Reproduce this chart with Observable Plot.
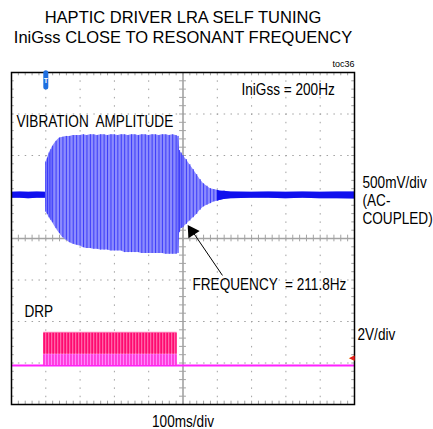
<!DOCTYPE html>
<html><head><meta charset="utf-8">
<script src="https://cdn.jsdelivr.net/npm/d3@7"></script>
<script src="https://cdn.jsdelivr.net/npm/@observablehq/plot@0.6"></script>
<style>body{margin:0;background:#fff} svg{display:block}</style>
</head><body><div id="chart"></div>
<script>
// ---- text ----
const titleLines = ["HAPTIC DRIVER LRA SELF TUNING", "IniGss CLOSE TO RESONANT FREQUENCY"];
const tocLabel = "toc36";
const iniLabel = "IniGss = 200Hz";
const ch1Label = "VIBRATION  AMPLITUDE";
const ch1Scale = ["500mV/div", "(AC-", "COUPLED)"];
const freqLabel = "FREQUENCY  = 211.8Hz";
const ch2Label = "DRP";
const ch2Scale = "2V/div";
const timeLabel = "100ms/div";

// ---- screen (divisions) ----
const timeDivs = [0, 100, 200, 300, 400, 500, 600, 700, 800, 900, 1000]; // ms
const voltDivs = [-4, -3, -2, -1, 0, 1, 2, 3, 4];

// ---- channel 1: vibration amplitude envelope (V, relative to ground) ----
const blueT  = [0, 25, 50, 75, 99, 100, 105, 110, 115, 120, 130, 140, 150, 160, 170, 180, 190, 200, 210, 220, 230, 240, 250, 260, 270, 280, 290, 300, 310, 320, 330, 340, 350, 360, 370, 380, 390, 400, 410, 420, 430, 440, 450, 460, 470, 480, 486, 490, 495, 500, 510, 520, 530, 540, 550, 560, 570, 580, 590, 600, 610, 620, 640, 700, 750, 800, 850, 900, 950, 1000];
const blueHi = [0.036, 0.04, 0.036, 0.04, 0.036, 0.40, 0.45, 0.51, 0.55, 0.59, 0.65, 0.69, 0.70, 0.71, 0.71, 0.72, 0.72, 0.72, 0.73, 0.72, 0.73, 0.73, 0.72, 0.73, 0.73, 0.72, 0.73, 0.73, 0.72, 0.73, 0.73, 0.72, 0.73, 0.73, 0.72, 0.73, 0.73, 0.72, 0.73, 0.73, 0.72, 0.73, 0.73, 0.72, 0.73, 0.72, 0.71, 0.54, 0.51, 0.48, 0.43, 0.37, 0.31, 0.25, 0.19, 0.14, 0.11, 0.08, 0.07, 0.06, 0.05, 0.05, 0.04, 0.036, 0.04, 0.036, 0.04, 0.036, 0.04, 0.04];
const blueLo = [-0.036, -0.035, -0.04, -0.036, -0.036, -0.20, -0.23, -0.27, -0.30, -0.33, -0.40, -0.46, -0.51, -0.54, -0.57, -0.59, -0.60, -0.61, -0.63, -0.64, -0.64, -0.65, -0.65, -0.66, -0.66, -0.66, -0.67, -0.67, -0.67, -0.67, -0.69, -0.69, -0.69, -0.69, -0.69, -0.70, -0.70, -0.70, -0.70, -0.70, -0.70, -0.70, -0.71, -0.71, -0.71, -0.71, -0.70, -0.45, -0.40, -0.39, -0.35, -0.31, -0.27, -0.23, -0.18, -0.14, -0.12, -0.10, -0.08, -0.07, -0.06, -0.05, -0.04, -0.036, -0.036, -0.04, -0.036, -0.04, -0.04, -0.045];
const ch1VoltsPerDiv = 0.5;
const ch1GroundDiv = 1.04;
const burstWindow = [100, 630];      // ms, where the drawn cycles are dense
const triggerT = 100;                // ms

// ---- channel 2: DRP drive ----
const drpStart = 94, drpEnd = 483;  // ms
const drpHigh = 1.6;                 // V
const drpMid = 0.55;                 // V, boundary of the two shade bands
const ch2VoltsPerDiv = 2;
const ch2GroundDiv = -3.06;
const ch2MarkerDiv = -2.87;

// ---- annotation arrow (ms, div) ----
const arrowTail = [615, -0.89];
const arrowHead = [522, 0.29];

// ---- derived tables ----
const v1 = v => ch1GroundDiv + v / ch1VoltsPerDiv;
const v2 = v => ch2GroundDiv + v / ch2VoltsPerDiv;
const blue = blueT.map((t, i) => ({t, hi: v1(blueHi[i]), lo: v1(blueLo[i])}));
const burst = blue.filter(d => d.t >= burstWindow[0] && d.t <= burstWindow[1]);
const quietL = blue.filter(d => d.t <= 99);
const quietR = blue.filter(d => d.t >= 600);
const drp = [{x1: drpStart, x2: drpEnd}];

const minorT = d3.range(0, 1000.1, 20);
const minorV = d3.range(-4, 4.01, 0.2);
const gridT = timeDivs.filter(t => t !== 0 && t !== 500 && t !== 1000);
const gridV = voltDivs.filter(v => v !== 0 && Math.abs(v) !== 4);

const W = 433, H = 429, mL = 11, mR = 79, mT = 72, mB = 25;
const labelFont = "'Liberation Sans', Arial, Helvetica, sans-serif";
const titleFont = "'Liberation Sans', Arial, sans-serif";
const labelSqueeze = 0.85;
const txt = (s, o) => Plot.text([s], {text: d => d, fill: "#000", fontFamily: labelFont, fontSize: 16, lineAnchor: "bottom", textAnchor: "start", ...o});

const chart = Plot.plot({
  width: W, height: H,
  marginLeft: mL, marginRight: mR, marginTop: mT, marginBottom: mB,
  x: {domain: [0, 1000], axis: null},
  y: {domain: [-4, 4], axis: null},
  style: {background: "#fff", overflow: "visible"},
  marks: [
    // dotted grid
    Plot.ruleX(gridT, {stroke: "#a0a0a0", strokeWidth: 1, strokeDasharray: "1.5,6.8"}),
    Plot.ruleY(gridV, {stroke: "#a0a0a0", strokeWidth: 1, strokeDasharray: "1.5,5.36"}),
    // center axes with minor ticks
    Plot.ruleX([500], {stroke: "#a3a3a3", strokeWidth: 1.6}),
    Plot.ruleY([0], {stroke: "#a3a3a3", strokeWidth: 1.6}),
    Plot.ruleX(minorT, {y1: -0.08, y2: 0.08, stroke: "#a3a3a3", strokeWidth: 1}),
    Plot.ruleY(minorV, {x1: 490, x2: 510, stroke: "#a3a3a3", strokeWidth: 1}),
    // edge ticks
    Plot.ruleX(minorT, {y1: -4, y2: -3.92, stroke: "#a3a3a3", strokeWidth: 1}),
    Plot.ruleX(minorT, {y1: 4, y2: 3.92, stroke: "#a3a3a3", strokeWidth: 1}),
    Plot.ruleY(minorV, {x1: 0, x2: 8, stroke: "#a3a3a3", strokeWidth: 1}),
    Plot.ruleY(minorV, {x1: 992, x2: 1000, stroke: "#a3a3a3", strokeWidth: 1}),
    // channel 1
    Plot.areaY(blue, {x: "t", y1: "lo", y2: "hi", fill: "#8c8cfd", curve: "linear"}),
    Plot.ruleX(burst, {x: "t", y1: "lo", y2: "hi", stroke: "#2e2ef8", strokeWidth: 0.85}),
    Plot.areaY(quietL, {x: "t", y1: "lo", y2: "hi", fill: "#1010ee"}),
    Plot.areaY(quietR, {x: "t", y1: "lo", y2: "hi", fill: "#1010ee"}),
    // channel 2
    Plot.ruleY([0], {y: () => v2(0), stroke: "#ff22ff", strokeWidth: 2}),
    Plot.rect(drp, {x1: "x1", x2: "x2", y1: () => v2(0), y2: () => v2(drpMid), fill: "#ff88ff"}),
    Plot.rect(drp, {x1: "x1", x2: "x2", y1: () => v2(drpMid), y2: () => v2(drpHigh), fill: "#ff80b8"}),
    Plot.ruleY(drp, {x1: "x1", x2: "x2", y: () => v2((drpMid + drpHigh) / 2), stroke: "#ff0a70", strokeWidth: 21, strokeDasharray: "2,1"}),
    Plot.ruleY(drp, {x1: "x1", x2: "x2", y: () => v2(drpMid / 2), stroke: "#ff2ad0", strokeWidth: 11, strokeDasharray: "1.5,1.5"}),
    // frame
    Plot.frame({stroke: "#000", strokeWidth: 1.5}),
    // trigger marker
    Plot.ruleX([triggerT], {y1: 3.98, y2: 3.64, stroke: "#1e6fe0", strokeWidth: 5, strokeLinecap: "round"}),
    Plot.text([triggerT], {x: d => d, y: 3.8, text: () => "T", fill: "#fff", fontSize: 7, fontWeight: "bold", fontFamily: titleFont}),
    // channel 2 ground marker
    Plot.text([ch2MarkerDiv], {x: 1000, y: d => d, text: () => "◀", fill: "#e02020", fontSize: 7, textAnchor: "end", dx: -1}),
    // arrow annotation
    Plot.link([0], {x1: arrowTail[0], y1: arrowTail[1], x2: arrowHead[0] + 4, y2: arrowHead[1] - 0.1, stroke: "#000", strokeWidth: 1}),
    Plot.dot([0], {x: arrowHead[0] + 4, y: arrowHead[1] - 0.12, symbol: "triangle", r: 5, fill: "#000", rotate: -33}),
    // titles
    Plot.text([titleLines[0]], {text: d => d, frameAnchor: "top", dy: -50, lineAnchor: "bottom", fontFamily: titleFont, fontSize: 16.5, fill: "#000", letterSpacing: -0.4}),
    Plot.text([titleLines[1]], {text: d => d, frameAnchor: "top", dy: -30, lineAnchor: "bottom", fontFamily: titleFont, fontSize: 16.5, fill: "#000", letterSpacing: -0.4}),
    Plot.text([tocLabel], {text: d => d, frameAnchor: "top-right", dy: -6, lineAnchor: "bottom", textAnchor: "end", fontFamily: titleFont, fontSize: 9, fill: "#000"}),
    // labels
    txt(iniLabel, {frameAnchor: "top-left", dx: 230, dy: 22}),
    txt(ch1Label, {frameAnchor: "top-left", dx: 5, dy: 54}),
    txt(ch1Scale[0], {frameAnchor: "top-right", dx: 8, dy: 115}),
    txt(ch1Scale[1], {frameAnchor: "top-right", dx: 8, dy: 133}),
    txt(ch1Scale[2], {frameAnchor: "top-right", dx: 8, dy: 151}),
    txt(freqLabel, {frameAnchor: "top-left", dx: 181, dy: 217}),
    txt(ch2Label, {frameAnchor: "top-left", dx: 13, dy: 244}),
    txt(ch2Scale, {frameAnchor: "top-right", dx: 3, dy: 267}),
    txt(timeLabel, {frameAnchor: "bottom", dy: 22, textAnchor: "middle"})
  ]
});
document.getElementById("chart").appendChild(chart);

// horizontally condense the annotation labels (the reference uses a narrow face)
d3.select(chart).selectAll("g[font-family]").filter(function () {
  return this.getAttribute("font-family") === labelFont && this.getAttribute("font-size") === "16";
}).selectAll("text").each(function () {
  const x = +this.getAttribute("x") || 0, y = +this.getAttribute("y") || 0;
  const t = this.getAttribute("transform") || "";
  this.setAttribute("transform", `${t} translate(${x},${y}) scale(${labelSqueeze},1) translate(${-x},${-y})`);
});
</script>
</body></html>
